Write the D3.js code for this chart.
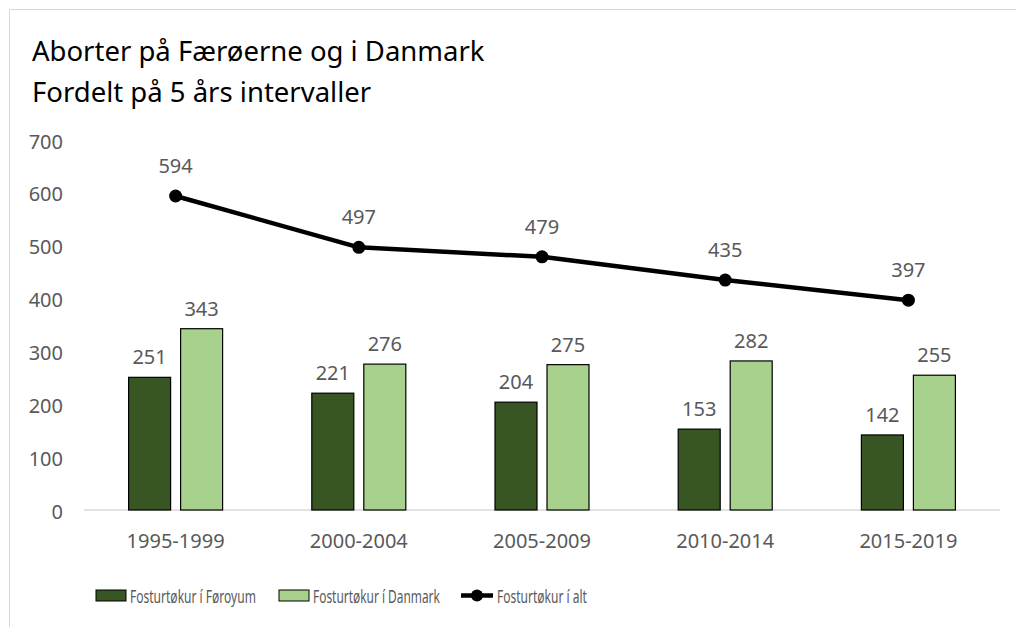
<!DOCTYPE html>
<html>
<head>
<meta charset="utf-8">
<script src="https://cdn.jsdelivr.net/npm/d3@7"></script>
<style>
  body { margin: 0; background: #fff; }
  text { font-family: "Noto Sans", "Open Sans", sans-serif; }
</style>
</head>
<body>
<div id="chart"></div>
<script>
// Aborter paa Faeroerne og i Danmark

var categories = ["1995-1999", "2000-2004", "2005-2009", "2010-2014", "2015-2019"];
var foroyum = [251, 221, 204, 153, 142];
var danmark = [343, 276, 275, 282, 255];
var ialt = [594, 497, 479, 435, 397];
var yTicks = [0, 100, 200, 300, 400, 500, 600, 700];
var seriesNames = ["Fosturtøkur í Føroyum", "Fosturtøkur í Danmark", "Fosturtøkur í alt"];

var width = 1016, height = 627;
var darkGreen = "#375623", lightGreen = "#a9d18e", labelCol = "#595959";

var svg = d3.select("#chart").append("svg")
    .attr("width", width)
    .attr("height", height);

// chart area border
svg.append("path")
    .attr("d", "M9.5,627 L9.5,9.5 L1016,9.5")
    .attr("fill", "none")
    .attr("stroke", "#d9d9d9");

// title
var title = svg.append("g").attr("fill", "#000").attr("font-size", 27.5);
title.append("text").attr("x", 32).attr("y", 61).text("Aborter på Færøerne og i Danmark");
title.append("text").attr("x", 32).attr("y", 101.5).text("Fordelt på 5 års intervaller");

var x = d3.scaleBand()
    .domain(categories)
    .range([84, 1000]);

var y = d3.scaleLinear()
    .domain([0, 700])
    .range([510, 140]);

function cx(i) { return x(categories[i]) + x.bandwidth() / 2; }

// y labels
svg.append("g")
    .selectAll("text")
    .data(yTicks)
    .enter().append("text")
    .attr("x", 63)
    .attr("y", function(d) { return y(d) + 8.5; })
    .attr("text-anchor", "end")
    .attr("font-size", 20)
    .attr("fill", labelCol)
    .text(function(d) { return d; });

// x axis line
svg.append("line")
    .attr("x1", 84).attr("x2", 1000)
    .attr("y1", y(0)).attr("y2", y(0))
    .attr("stroke", "#d9d9d9")
    .attr("stroke-width", 1.5);

svg.append("g")
    .selectAll("text")
    .data(categories)
    .enter().append("text")
    .attr("x", function(d, i) { return cx(i); })
    .attr("y", 548)
    .attr("text-anchor", "middle")
    .attr("font-size", 20)
    .attr("fill", labelCol)
    .text(function(d) { return d; });

var barW = 42, off = 26;

function bars(values, color, dx) {
    var g = svg.append("g");
    g.selectAll("rect")
        .data(values)
        .enter().append("rect")
        .attr("x", function(d, i) { return cx(i) + dx - barW / 2; })
        .attr("y", function(d) { return y(d); })
        .attr("width", barW)
        .attr("height", function(d) { return y(0) - y(d); })
        .attr("fill", color)
        .attr("stroke", "#000")
        .attr("stroke-width", 1.2);
    g.selectAll("text")
        .data(values)
        .enter().append("text")
        .attr("x", function(d, i) { return cx(i) + dx; })
        .attr("y", function(d) { return y(d) - 13; })
        .attr("text-anchor", "middle")
        .attr("font-size", 20)
        .attr("fill", labelCol)
        .text(function(d) { return d; });
}

bars(foroyum, darkGreen, -off);
bars(danmark, lightGreen, off);

// total line
var line = d3.line()
    .x(function(d, i) { return cx(i); })
    .y(function(d) { return y(d); });

svg.append("path")
    .datum(ialt)
    .attr("d", line)
    .attr("fill", "none")
    .attr("stroke", "#000")
    .attr("stroke-width", 4.5)
    .attr("stroke-linejoin", "round");

svg.append("g")
    .selectAll("circle")
    .data(ialt)
    .enter().append("circle")
    .attr("cx", function(d, i) { return cx(i); })
    .attr("cy", function(d) { return y(d); })
    .attr("r", 6.5)
    .attr("fill", "#000");

svg.append("g")
    .selectAll("text")
    .data(ialt)
    .enter().append("text")
    .attr("x", function(d, i) { return cx(i); })
    .attr("y", function(d) { return y(d) - 23; })
    .attr("text-anchor", "middle")
    .attr("font-size", 20)
    .attr("fill", labelCol)
    .text(function(d) { return d; });

// legend (narrow text, squeezed horizontally like the original)
var leg = svg.append("g").attr("font-size", 19).attr("fill", labelCol);

function legText(tx, w, s) {
    var t = leg.append("text").attr("x", 0).attr("y", 0).text(s);
    var k = w / t.node().getComputedTextLength();
    t.attr("transform", "translate(" + tx + ",603) scale(" + k + ",1)");
}

leg.append("rect").attr("x", 96).attr("y", 590).attr("width", 30).attr("height", 11)
    .attr("fill", darkGreen).attr("stroke", "#000");
legText(130, 126, seriesNames[0]);
leg.append("rect").attr("x", 279).attr("y", 590).attr("width", 30).attr("height", 11)
    .attr("fill", lightGreen).attr("stroke", "#000");
legText(313, 127, seriesNames[1]);
leg.append("line").attr("x1", 461).attr("x2", 493).attr("y1", 595.5).attr("y2", 595.5)
    .attr("stroke", "#000").attr("stroke-width", 4.5);
leg.append("circle").attr("cx", 477).attr("cy", 595.5).attr("r", 6).attr("fill", "#000");
legText(497, 90, seriesNames[2]);
</script>
</body>
</html>
